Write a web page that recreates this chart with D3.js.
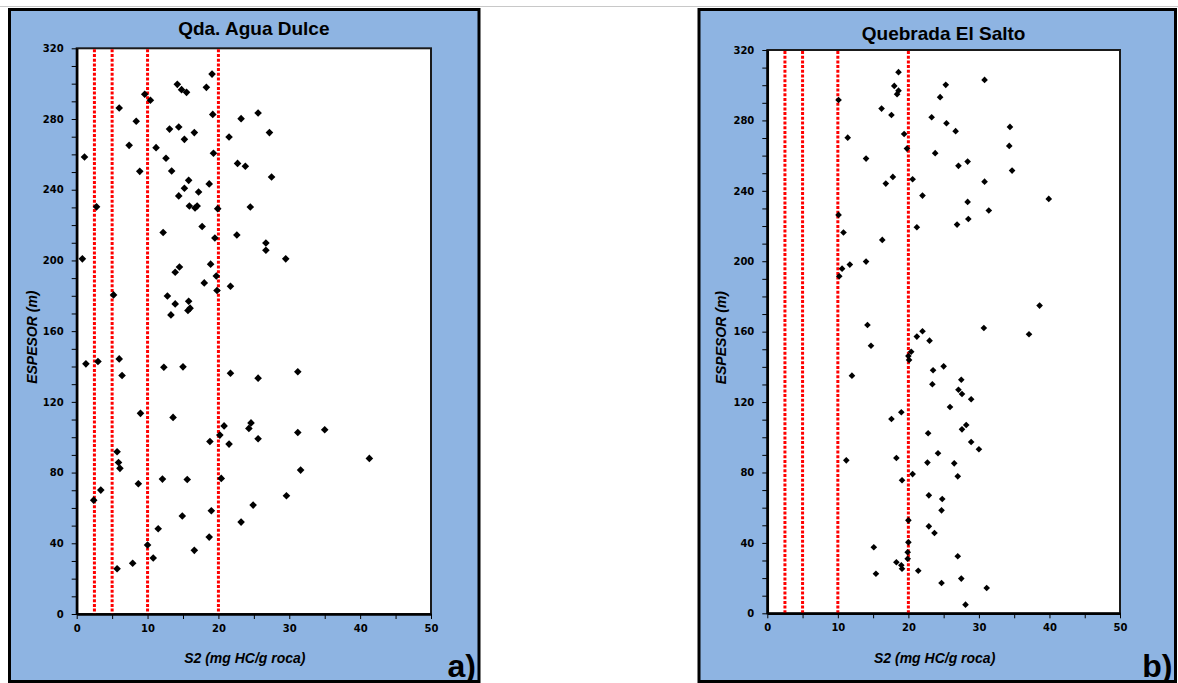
<!DOCTYPE html>
<html>
<head>
<meta charset="utf-8">
<script src="https://cdn.jsdelivr.net/npm/d3@7"></script>
<style>
  body { margin: 0; background: #fff; }
  svg { display: block; }
</style>
</head>
<body>
<svg id="chart" width="1178" height="683"></svg>
<script>
// Qda. Agua Dulce: S2 (mg HC/g roca) vs espesor (m)
const aguaDulceS2 = [
  1.1, 2.8, 6.0, 8.4, 7.4, 8.9, 9.6, 10.4, 11.2, 12.2, 12.6, 13.1, 13.4, 14.2, 14.8, 15.5,
  14.4, 15.2, 16.6, 14.4, 15.2, 15.8, 17.2, 15.9, 16.7, 17.0, 17.7, 18.7, 18.3, 19.1, 19.2,
  19.3, 19.5, 19.9, 21.5, 22.6, 22.7, 23.8, 23.2, 24.5, 25.6, 27.2, 27.5, 18.9, 14.5, 13.9,
  19.7, 18.0, 21.7, 19.8, 5.2, 12.8, 15.8, 13.9, 16.0, 15.7, 13.3, 1.3, 3.0, 6.0, 6.4, 12.3,
  15.0, 21.7, 25.6, 9.0, 13.6, 26.7, 26.7, 29.5, 31.2, 18.8, 20.2, 20.8, 21.5, 24.3, 24.6,
  25.6, 5.7, 5.9, 6.1, 12.1, 15.6, 20.4, 8.7, 3.4, 2.4, 24.9, 19.0, 23.2, 14.9, 11.5, 18.7,
  10.0, 16.6, 10.8, 7.9, 5.7, 31.2, 35.0, 41.3, 31.6, 29.6, 0.8
];
const aguaDulceEspesor = [
  258.5, 230.3, 286.2, 278.7, 265.1, 250.4, 294.0, 290.6, 263.8, 215.8, 257.8, 274.3, 250.6, 299.6, 296.6, 295.1,
  275.5, 268.5, 272.3, 236.5, 240.8, 245.3, 238.7, 230.8, 229.7, 230.8, 219.2, 243.3, 297.9, 305.4, 282.6,
  260.6, 212.7, 229.3, 269.8, 214.4, 254.9, 253.3, 280.2, 230.2, 283.4, 272.3, 247.2, 197.9, 196.3, 193.3,
  191.2, 187.3, 185.4, 183.0, 180.5, 179.9, 176.9, 175.4, 173.0, 171.7, 169.2, 141.5, 142.8, 144.3, 134.9, 139.6,
  139.8, 136.2, 133.4, 113.5, 111.2, 209.9, 205.8, 200.9, 137.0, 97.6, 101.2, 106.4, 96.1, 105.0, 108.1,
  99.1, 91.8, 85.7, 82.4, 76.3, 76.1, 76.7, 73.7, 70.1, 64.4, 61.6, 58.4, 52.0, 55.4, 48.2, 43.5,
  39.0, 36.0, 31.7, 28.7, 25.6, 102.7, 104.2, 88.0, 81.4, 66.9, 200.9
];

// Quebrada El Salto
const elSaltoS2 = [
  18.6, 18.0, 18.6, 18.4, 10.1, 16.2, 17.6, 23.3, 24.5, 25.3, 25.4, 26.7, 11.4, 19.4, 19.8, 23.8,
  14.0, 27.1, 20.6, 17.8, 16.8, 22.0, 26.9, 10.1, 21.2, 10.8, 16.3, 14.0, 10.6, 11.7, 10.2, 14.2,
  30.8, 34.4, 34.3, 34.7, 28.4, 30.8, 28.4, 31.4, 39.9, 28.5, 38.6, 30.7, 14.7, 21.2, 22.0, 23.0,
  20.0, 20.4, 20.1, 12.0, 23.5, 25.0, 23.4, 27.1, 25.9, 17.6, 19.0, 22.8, 11.2, 18.3, 22.7, 24.2,
  26.5, 19.1, 20.6, 27.0, 22.9, 24.8, 24.7, 20.0, 22.9, 23.7, 20.0, 15.1, 19.9, 19.9, 18.3, 19.0,
  19.1, 21.4, 15.4, 24.7, 27.0, 37.1, 27.5, 27.6, 28.9, 28.2, 27.6, 28.9, 30.0, 27.5, 31.1, 28.1
];
const elSaltoEspesor = [
  307.4, 299.6, 296.9, 294.9, 291.6, 286.7, 283.1, 281.8, 293.2, 300.2, 278.4, 273.9, 270.2, 272.3, 264.0, 261.4,
  258.3, 254.2, 246.6, 247.9, 244.1, 237.3, 220.8, 226.3, 219.3, 216.3, 212.1, 199.8, 195.8, 198.1, 191.5, 163.8,
  303.0, 276.3, 265.5, 251.5, 256.6, 245.2, 233.7, 228.8, 235.4, 224.0, 174.8, 162.1, 152.0, 157.2, 160.2, 154.9,
  146.2, 148.6, 143.9, 135.0, 138.1, 140.3, 130.1, 127.0, 117.2, 110.4, 114.2, 102.3, 86.9, 88.2, 85.6, 90.9,
  85.2, 75.6, 79.1, 77.8, 67.0, 64.9, 58.5, 52.8, 49.4, 45.6, 40.3, 37.5, 34.7, 31.0, 29.0, 27.3,
  25.3, 24.2, 22.5, 17.2, 32.4, 158.5, 132.7, 124.6, 121.6, 107.0, 104.5, 97.3, 93.2, 19.7, 14.4, 4.9
];

// red reference lines (S2 limits)
const s2Limits = [2.5, 5, 10, 20];

const xTicks = [0, 5, 10, 15, 20, 25, 30, 35, 40, 45, 50];
const xTickLabels = ['0', '', '10', '', '20', '', '30', '', '40', '', '50'];
const yTicks = [0, 10, 20, 30, 40, 50, 60, 70, 80, 90, 100, 110, 120, 130, 140, 150, 160,
  170, 180, 190, 200, 210, 220, 230, 240, 250, 260, 270, 280, 290, 300, 310, 320];
const yLabelStep = 40;

const panels = [
  {
    title: 'Qda. Agua Dulce', letter: 'a)', s2: aguaDulceS2, espesor: aguaDulceEspesor,
    box: {x0: 9.5, y0: 9.5, x1: 479, y1: 681.5},
    plot: {left: 76.7, right: 431, top: 48.3, bottom: 614},
    titleY: 35, markerSize: 29
  },
  {
    title: 'Quebrada El Salto', letter: 'b)', s2: elSaltoS2, espesor: elSaltoEspesor,
    box: {x0: 699, y0: 9.5, x1: 1175.5, y1: 681.5},
    plot: {left: 767.3, right: 1120, top: 50, bottom: 613.3},
    titleY: 40, markerSize: 22
  }
];

const svg = d3.select('#chart');

// thin grey page line at the top
svg.append('line')
  .attr('x1', 0).attr('x2', 1178)
  .attr('y1', 6.5).attr('y2', 6.5)
  .attr('stroke', '#c8c8c8')
  .attr('stroke-width', 1);

panels.forEach(drawPanel);

function drawPanel(p){
  const g = svg.append('g');

  g.append('rect')
    .attr('x', p.box.x0)
    .attr('y', p.box.y0)
    .attr('width', p.box.x1 - p.box.x0)
    .attr('height', p.box.y1 - p.box.y0)
    .attr('fill', 'rgb(142, 180, 226)')
    .attr('stroke', '#000')
    .attr('stroke-width', 3);

  const x = d3.scaleLinear().domain([0, 50]).range([p.plot.left, p.plot.right]);
  const y = d3.scaleLinear().domain([0, 320]).range([p.plot.bottom, p.plot.top]);

  // plot area
  g.append('rect')
    .attr('x', x(0))
    .attr('y', y(320))
    .attr('width', x(50) - x(0))
    .attr('height', y(0) - y(320))
    .attr('fill', '#fff')
    .attr('stroke', '#1a1a1a')
    .attr('stroke-width', 2);

  // title
  g.append('text')
    .attr('x', (x(0) + x(50)) / 2)
    .attr('y', p.titleY)
    .attr('text-anchor', 'middle')
    .style('font-family', '"Liberation Sans", Arial, sans-serif')
    .style('font-weight', 'bold')
    .style('font-size', '19px')
    .text(p.title);

  // red dotted limit lines
  g.selectAll('.limit')
    .data(s2Limits)
    .enter().append('line')
    .attr('class', 'limit')
    .attr('x1', d => x(d)).attr('x2', d => x(d))
    .attr('y1', y(320) + 1).attr('y2', y(0))
    .attr('stroke', '#ff0000')
    .attr('stroke-width', 3)
    .attr('stroke-dasharray', '3,1.7');

  // axes
  const xAxis = d3.axisBottom(x)
    .tickValues(xTicks)
    .tickFormat((d, i) => xTickLabels[i])
    .tickSize(5)
    .tickSizeOuter(0)
    .tickPadding(6);

  const yAxis = d3.axisLeft(y)
    .tickValues(yTicks)
    .tickFormat(d => d % yLabelStep === 0 ? d : '')
    .tickSize(5)
    .tickSizeOuter(0)
    .tickPadding(8);

  const gx = g.append('g')
    .attr('transform', `translate(0, ${y(0)})`)
    .call(xAxis);
  const gy = g.append('g')
    .attr('transform', `translate(${x(0)}, 0)`)
    .call(yAxis);

  [gx, gy].forEach(ax => {
    ax.select('.domain').attr('stroke', '#000').attr('stroke-width', 2.5);
    ax.selectAll('.tick line').attr('stroke', '#000').attr('stroke-width', 1);
    ax.selectAll('.tick text')
      .attr('fill', '#000')
      .style('font-family', '"DejaVu Sans", Verdana, sans-serif')
      .style('font-weight', 'bold')
      .style('font-size', '10px');
  });

  // points
  const points = p.s2.map((v, i) => ({s2: v, espesor: p.espesor[i]}));
  g.selectAll('.pt')
    .data(points)
    .enter().append('path')
    .attr('class', 'pt')
    .attr('d', d3.symbol().type(d3.symbolSquare).size(p.markerSize))
    .attr('transform', d => `translate(${x(d.s2)}, ${y(d.espesor)}) rotate(45)`)
    .attr('fill', '#000');

  // axis titles
  g.append('text')
    .attr('x', (x(0) + x(50)) / 2 - 9)
    .attr('y', 663)
    .attr('text-anchor', 'middle')
    .style('font-family', '"Liberation Sans", Arial, sans-serif')
    .style('font-weight', 'bold')
    .style('font-style', 'italic')
    .style('font-size', '14px')
    .text('S2 (mg HC/g roca)');

  g.append('text')
    .attr('transform', `translate(${p.box.x0 + 27}, ${(y(0) + y(320)) / 2 + 6}) rotate(-90)`)
    .attr('text-anchor', 'middle')
    .style('font-family', '"Liberation Sans", Arial, sans-serif')
    .style('font-weight', 'bold')
    .style('font-style', 'italic')
    .style('font-size', '14px')
    .text('ESPESOR  (m)');

  // panel letter
  g.append('text')
    .attr('x', p.box.x1 - 3)
    .attr('y', 677)
    .attr('text-anchor', 'end')
    .style('font-family', '"Liberation Sans", Arial, sans-serif')
    .style('font-weight', 'bold')
    .style('font-size', '32px')
    .text(p.letter);
}
</script>
</body>
</html>
